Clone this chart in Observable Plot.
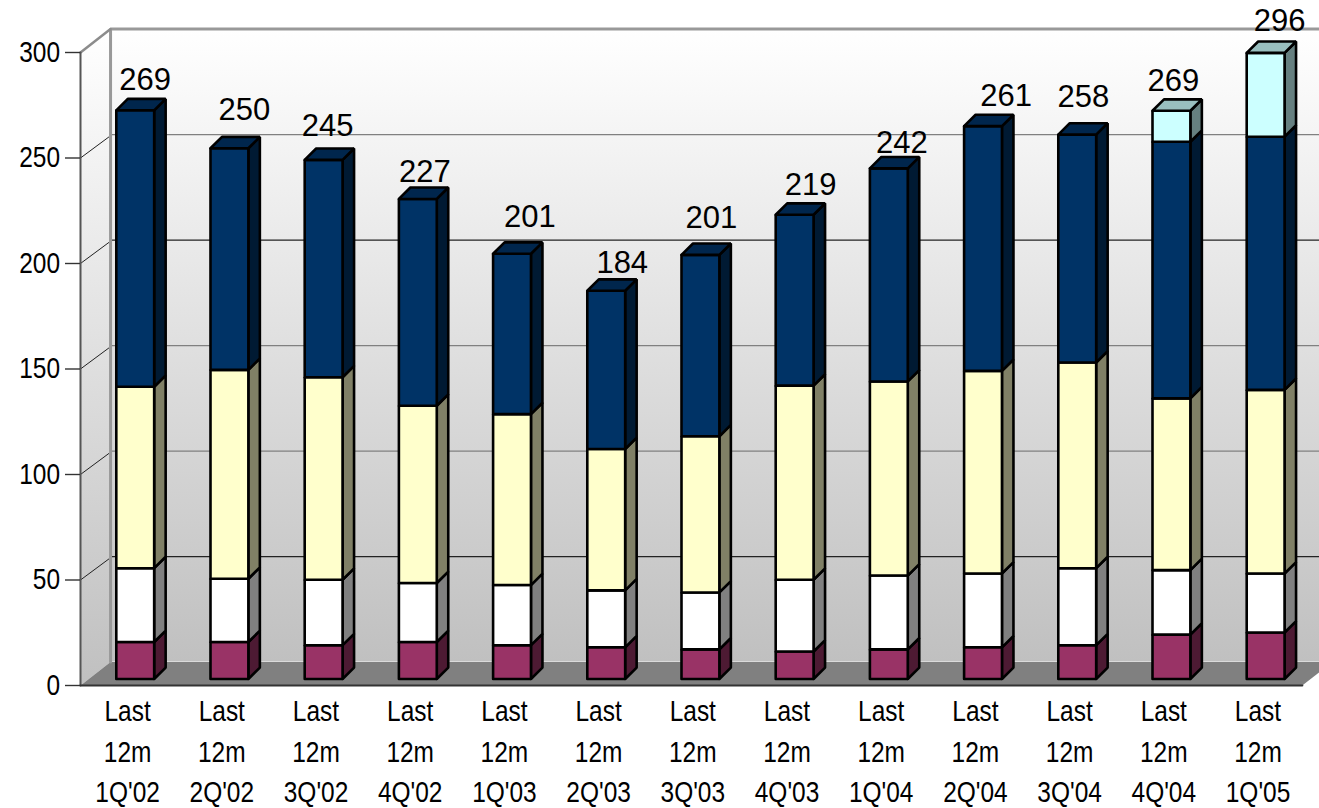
<!DOCTYPE html>
<html>
<head>
<meta charset="utf-8">
<script src="https://cdn.jsdelivr.net/npm/d3@7"></script>
<script src="https://cdn.jsdelivr.net/npm/@observablehq/plot@0.6"></script>
<style>
html,body{margin:0;padding:0;background:#fff;overflow:hidden}
svg{display:block}
</style>
</head>
<body>
<div id="chart"></div>
<script>
const periods = ["1Q'02","2Q'02","3Q'02","4Q'02","1Q'03","2Q'03","3Q'03","4Q'03","1Q'04","2Q'04","3Q'04","4Q'04","1Q'05"];
const maroon = [17.5,17.5,16,17.5,16,15,14,13,14,15,16,21,22];
const white  = [35,30,31,28,28.5,27,27,34,35,35,36.5,30.6,28];
const yellow = [86,99,96,84,81,67,74,92,92,96,97.5,81.4,87];
const navy   = [131,105,103,98,76,75,86,81,101,116,108,121.6,120];
const cyan   = [0,0,0,0,0,0,0,0,0,0,0,14.7,39.7];
const totals = [269,250,245,227,201,184,201,219,242,261,258,269,296];
const yTicks = [0,50,100,150,200,250,300];
// label placement, in axis units
const labelRaise = [14.2,18,16,12.8,17.5,13.3,17.5,14.2,11.8,14.2,18,14.2,15.1];
const labelShift = [.106,.159,.042,.074,.19,.17,.117,.17,.138,.244,.064,.02,.149];

const seriesList = [
  {values: maroon, front:"#993366", top:"#732650", side:"#4d1a33"},
  {values: white,  front:"#ffffff", top:"#bfbfbf", side:"#808080"},
  {values: yellow, front:"#ffffcc", top:"#bfbf99", side:"#808066"},
  {values: navy,   front:"#003366", top:"#00264d", side:"#001a33"},
  {values: cyan,   front:"#ccffff", top:"#99bfbf", side:"#668080"}
];

// 3D geometry in axis units
const xMax = 12.97, wallX = 0.319, wallY = 11.1;
const barLeft = 0.38, barWidth = 0.402, frontY = 3.1, depthX = 0.122, depthY = 5.4;

const faces = [];
let faceId = 0;
function face(pts, c){
  const id = faceId++;
  for (const p of [...pts, pts[0]]) faces.push({id, x:p[0], y:p[1], c});
}
const tops = [];
periods.forEach((p, i) => {
  const xl = i + barLeft, xr = xl + barWidth;
  let base = frontY;
  const present = seriesList.filter(s => s.values[i] > 0);
  present.forEach((s, k) => {
    const t = base + s.values[i];
    face([[xr,base],[xr+depthX,base+depthY],[xr+depthX,t+depthY],[xr,t]], s.side);
    face([[xl,base],[xr,base],[xr,t],[xl,t]], s.front);
    if (k === present.length - 1)
      face([[xl,t],[xr,t],[xr+depthX,t+depthY],[xl+depthX,t+depthY]], s.top);
    base = t;
  });
  tops.push({x: xl + barWidth/2 + labelShift[i], y: base + labelRaise[i], t: String(totals[i])});
});

const inner = yTicks.filter(t => t > 0 && t < 300);
const gridDiag = inner.flatMap(t => [{z:t,x:0,y:t},{z:t,x:wallX-0.02,y:t+wallY-1.2}]);
const gridHoriz = inner.flatMap(t => [
  {z:t,x:wallX,y:t+wallY,c:(t===50||t===200)?"#222222":"#808080"},
  {z:t,x:xMax+wallX,y:t+wallY,c:(t===50||t===200)?"#222222":"#808080"}
]);
const sideWall = [[0,0],[wallX,wallY],[wallX,300+wallY],[0,300],[0,0]];
const floor = [[0,0],[xMax,0],[xMax+wallX,wallY],[wallX,wallY],[0,0]];

const defs = () => {
  const d = d3.create("svg:defs");
  const g = d.append("linearGradient").attr("id","wallGrad").attr("x1",0).attr("x2",0).attr("y1",0).attr("y2",1);
  g.append("stop").attr("offset","0%").attr("stop-color","#ffffff");
  g.append("stop").attr("offset","100%").attr("stop-color","#c0c0c0");
  return d.node();
};

const chart = Plot.plot({
  width: 1319, height: 808,
  marginLeft: 80, marginRight: 14.4, marginTop: 52, marginBottom: 123,
  style: {fontFamily: "'Liberation Sans', Arial, sans-serif", background: "#fff", color: "#000"},
  x: {domain: [0, 13]},
  y: {domain: [0, 300]},
  color: {type: "identity"},
  marks: [
    defs,
    Plot.rect([0], {x1: wallX, x2: xMax + wallX, y1: wallY, y2: 300 + wallY, fill: "url(#wallGrad)"}),
    Plot.line(sideWall, {x: d => d[0], y: d => d[1], fill: "url(#wallGrad)", stroke: "none"}),
    Plot.line(gridHoriz, {x:"x", y:"y", z:"z", stroke:"c", strokeWidth:1.2}),
    Plot.line(floor, {x: d => d[0], y: d => d[1], fill: "#808080", stroke: "none"}),
    Plot.line(gridDiag, {x:"x", y:"y", z:"z", stroke:"#222", strokeWidth:1}),
    Plot.line([[wallX,wallY],[wallX,300+wallY],[xMax+wallX,300+wallY]], {x: d => d[0], y: d => d[1], stroke:"#999", strokeWidth:3, strokeLinejoin:"miter"}),
    Plot.line([[0,300],[wallX,300+wallY]], {x: d => d[0], y: d => d[1], stroke:"#8c8c8c", strokeWidth:2.5}),
    Plot.line([[0,0],[0,300]], {x: d => d[0], y: d => d[1], stroke:"#555", strokeWidth:2}),
    Plot.axisY({ticks: yTicks, tickSize: 15, tickPadding: 5.5, fontSize: 29.5, label: null, stroke:"#333", strokeWidth:1.4}),
    Plot.axisX(periods.map((p,i) => i + 0.5), {
      tickSize: 0, tickPadding: 7, fontSize: 29.5, lineHeight: 1.373, label: null,
      tickFormat: (v) => "Last\n12m\n" + periods[Math.floor(v)]
    }),
    Plot.line([[0,0],[xMax,0]], {x: d => d[0], y: d => d[1], stroke:"#333", strokeWidth:2.2}),
    Plot.line(faces, {x:"x", y:"y", z:"id", fill:"c", stroke:"#000", strokeWidth:2.6, strokeLinejoin:"miter"}),
    Plot.text(tops, {x:"x", y:"y", text:"t", fontSize:31, fill:"#000"})
  ]
});
// the reference's axis lettering is horizontally condensed
d3.select(chart).selectAll('g[aria-label="y-axis tick label"] text, g[aria-label="x-axis tick label"] text')
  .attr("transform", function(){ return (this.getAttribute("transform") || "") + " scale(0.83,1)"; });
document.getElementById("chart").append(chart);
</script>
</body>
</html>
